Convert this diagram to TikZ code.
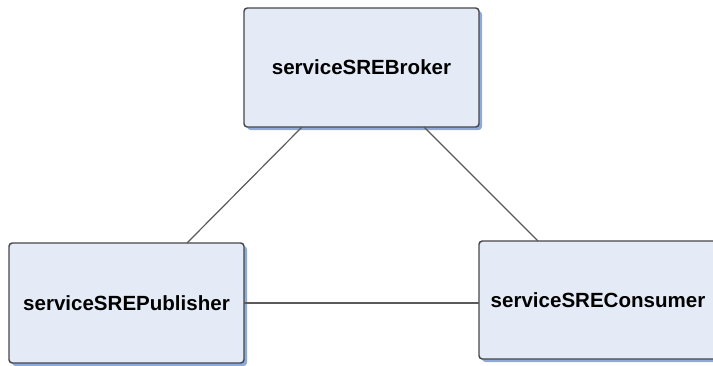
\documentclass[tikz,border=0pt]{standalone}
\usepackage{fontspec}
\setmainfont{Liberation Sans}
\usepackage{tikz}
\usetikzlibrary{calc,shadows}
\definecolor{boxfill}{RGB}{228,234,246}
\definecolor{boxedge}{RGB}{70,70,70}
\definecolor{boxshade}{RGB}{140,170,220}
\definecolor{linkgray}{RGB}{90,90,90}
\tikzset{
  svcbox/.style   = {draw=boxedge,line width=1.1pt,fill=boxfill,rounded corners=2.5pt,
                     outer sep=0pt,font=\bfseries\fontsize{15.4pt}{18pt}\selectfont,
                     drop shadow={shadow xshift=2.25pt,shadow yshift=-2.25pt,fill=boxshade,opacity=1}},
  linkline/.style = {draw=linkgray,line width=0.9pt}
}

\begin{document}
\begin{tikzpicture}[x=0.75pt,y=-0.75pt]
  \useasboundingbox (0,0) rectangle (713,365);
  \clip (0,0) rectangle (713,365);
  \node[svcbox,minimum width=176.25pt,minimum height=89.25pt] (brk) at (361.5,67.5) {serviceSREBroker};
  \node[svcbox,minimum width=176.25pt,minimum height=90pt]    (pub) at (126.5,303)  {serviceSREPublisher};
  \node[svcbox,minimum width=178.5pt,minimum height=88.5pt]   (con) at (598,300)    {serviceSREConsumer};
  % links
  \draw[linkline] ($(brk.south west)+(58,0)$)  -- ($(pub.north west)+(178,0)$);
  \draw[linkline] ($(brk.south west)+(180,0)$) -- ($(con.north west)+(59,0)$);
  \draw[linkline] (pub.east) -- (pub.east -| con.west);
\end{tikzpicture}
\end{document}
